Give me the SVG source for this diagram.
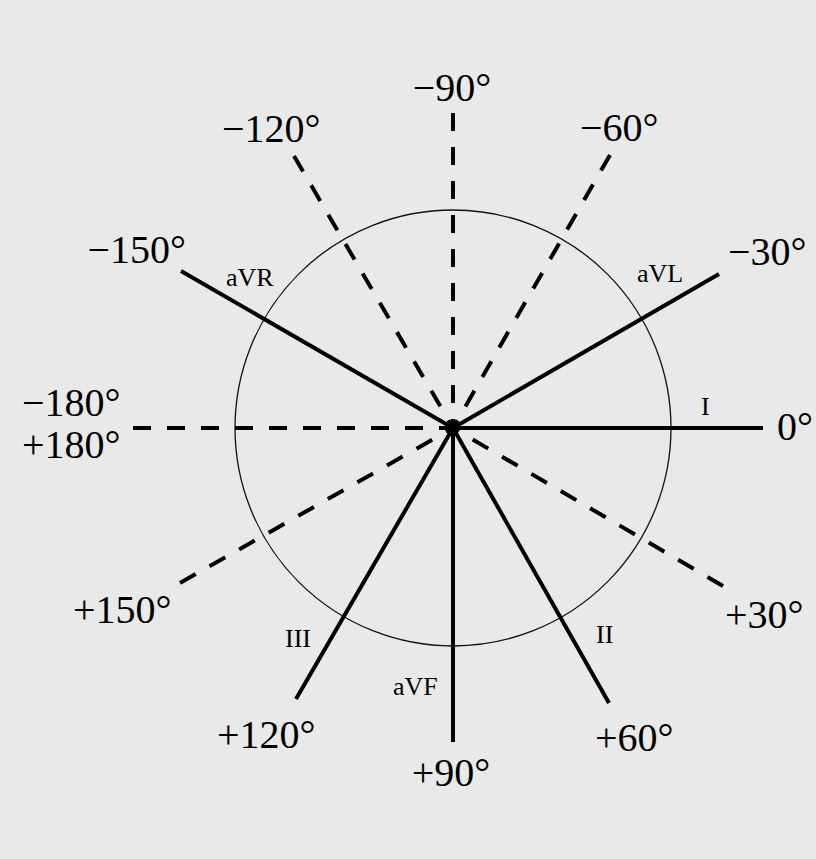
<svg xmlns="http://www.w3.org/2000/svg" width="816" height="859" viewBox="0 0 816 859">
  <style>
    .bg { fill: #e9e9e9; }
    .circ { fill: none; stroke: #111; stroke-width: 1.3; }
    .solid { stroke: #000; stroke-width: 4; stroke-linecap: butt; fill: none; }
    .dash { stroke: #000; stroke-width: 4; stroke-dasharray: 18 16; fill: none; }
    .deg { font-family: "Liberation Serif", "Times New Roman", serif; font-size: 40px; fill: #000; }
    .lead { font-family: "Liberation Serif", "Times New Roman", serif; font-size: 26px; fill: #000; }
  </style>
  <rect class="bg" x="0" y="0" width="816" height="859"/>

  <g id="reference-circle">
    <circle class="circ" cx="453" cy="428" r="218"/>
  </g>

  <g id="connectors">
    <line class="dash" x1="453" y1="113" x2="453" y2="428"/>
    <line class="dash" x1="610" y1="155" x2="453" y2="428"/>
    <line class="dash" x1="294" y1="156" x2="453" y2="428"/>
    <line class="dash" x1="133" y1="428" x2="453" y2="428"/>
    <line class="dash" x1="180" y1="583" x2="453" y2="428"/>
    <line class="dash" x1="723" y1="586" x2="453" y2="428"/>
    <line class="solid" x1="453" y1="428" x2="763" y2="428"/>
    <line class="solid" x1="453" y1="428" x2="719" y2="274"/>
    <line class="solid" x1="453" y1="428" x2="181" y2="271"/>
    <line class="solid" x1="453" y1="428" x2="609" y2="703"/>
    <line class="solid" x1="453" y1="428" x2="296" y2="699"/>
    <line class="solid" x1="453" y1="428" x2="453" y2="742"/>
    <circle cx="453" cy="428" r="5" fill="#000"/>
  </g>

  <g id="lead-I"><text class="lead" x="701" y="415">I</text></g>
  <g id="lead-aVL"><text class="lead" x="637" y="282">aVL</text></g>
  <g id="lead-aVR"><text class="lead" x="226" y="286">aVR</text></g>
  <g id="lead-II"><text class="lead" x="596" y="643">II</text></g>
  <g id="lead-III"><text class="lead" x="285" y="647">III</text></g>
  <g id="lead-aVF"><text class="lead" x="393" y="695">aVF</text></g>

  <g id="deg-m90"><text class="deg" x="452" y="101" text-anchor="middle">−90°</text></g>
  <g id="deg-m60"><text class="deg" x="580" y="141">−60°</text></g>
  <g id="deg-m120"><text class="deg" x="222" y="142">−120°</text></g>
  <g id="deg-m150"><text class="deg" x="186" y="263" text-anchor="end">−150°</text></g>
  <g id="deg-m30"><text class="deg" x="728" y="265">−30°</text></g>
  <g id="deg-0"><text class="deg" x="777" y="440">0°</text></g>
  <g id="deg-180">
    <text class="deg" x="22" y="416">−180°</text>
    <text class="deg" x="22" y="458">+180°</text>
  </g>
  <g id="deg-p150"><text class="deg" x="73" y="623">+150°</text></g>
  <g id="deg-p30"><text class="deg" x="725" y="628">+30°</text></g>
  <g id="deg-p120"><text class="deg" x="217" y="748">+120°</text></g>
  <g id="deg-p60"><text class="deg" x="595" y="751">+60°</text></g>
  <g id="deg-p90"><text class="deg" x="451" y="786" text-anchor="middle">+90°</text></g>
</svg>
